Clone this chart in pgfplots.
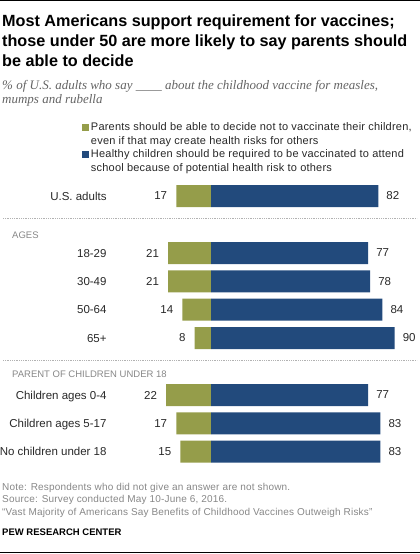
\documentclass[border=0pt]{standalone}
\usepackage{fontspec}
\setmainfont{Liberation Sans}
\newfontfamily\subfont{Liberation Serif}
\newfontfamily\widefont{Liberation Sans}[LetterSpace=1.9]
\usepackage{pgfplots}
\pgfplotsset{compat=1.18}
\usepackage{pgfplotstable}
\definecolor{pgreen}{RGB}{149,157,74}
\definecolor{pblue}{RGB}{34,74,124}
\definecolor{ptext}{RGB}{40,40,40}
\definecolor{pgray}{RGB}{135,135,135}
\definecolor{psub}{RGB}{100,100,100}

\pgfplotstableread{
y g b
196 17 82
253 21 77
281.3 21 78
309.7 14 84
338 8 90
395 22 77
423.3 17 83
451.7 15 83
}\datatab

\begin{document}
\begin{tikzpicture}
\path[use as bounding box] (0,0) rectangle (420pt,554pt);
\begin{axis}[
  at={(0,0)}, anchor=south west,
  scale only axis, width=420pt, height=554pt,
  xmin=-103.43, xmax=102.45, ymin=0, ymax=554, y dir=reverse,
  enlargelimits=false, clip=false,
  axis line style={draw=none}, tick style={draw=none},
  xtick=\empty,
  ytick={196,253,281.3,309.7,338,395,423.3,451.7},
  yticklabels={U.S. adults,18-29,30-49,50-64,65+,Children ages 0-4,Children ages 5-17,No children under 18},
  yticklabel style={anchor=base east, inner sep=0pt, xshift=111pt, yshift=-4.2pt, font=\fontsize{11.5}{13}\selectfont, text=ptext},
  /pgf/number format/assume math mode=true,
  xbar, bar width=22pt, bar shift=0pt,
  legend cell align=left,
  legend style={at={(axis cs:-63.24,123)}, anchor=north west, draw=none, fill=none,
    inner sep=0pt, outer sep=0pt, row sep=4pt, column sep=2pt,
    nodes={inner sep=0pt, align=left, text=ptext, font=\widefont\fontsize{11}{13.5}\selectfont}},
  legend image code/.code={\fill[#1] (0pt,3.3pt) rectangle (7pt,10.3pt);},
]
\addplot[fill=pgreen, draw=none, point meta=\thisrow{g},
  nodes near coords,
  nodes near coords style={anchor=east, inner sep=0pt, xshift=-9pt, text=ptext, font=\fontsize{11.5}{13}\selectfont}]
  table[x expr=-\thisrow{g}, y=y]{\datatab};
\addlegendentry{Parents should be able to decide not to vaccinate their children,\\even if that may create health risks for others}
\addplot[fill=pblue, draw=none, point meta=\thisrow{b},
  nodes near coords,
  nodes near coords style={anchor=west, inner sep=0pt, xshift=8pt, text=ptext, font=\fontsize{11.5}{13}\selectfont}]
  table[x=b, y=y]{\datatab};
\addlegendentry{Healthy children should be required to be vaccinated to attend\\school because of potential health risk to others}
\end{axis}
\begin{scope}[x=1pt, y=-1pt, yshift=554pt]
  \draw[line width=1.2pt] (0,0.6) -- (420,0.6);
  \draw[line width=1pt] (0,552.5) -- (420,552.5);
  \begin{scope}[every node/.style={anchor=base west, inner sep=0pt, font=\fontsize{16.2}{20}\selectfont\bfseries}]
    \node at (2,26.7) {Most Americans support requirement for vaccines;};
    \node at (2,46.7) {those under 50 are more likely to say parents should};
    \node at (2,66.7) {be able to decide};
  \end{scope}
  \begin{scope}[every node/.style={anchor=base west, inner sep=0pt, text=psub, font=\subfont\itshape\fontsize{13}{15}\selectfont}]
    \node at (2,90) {\% of U.S. adults who say \_\_\_\_ about the childhood vaccine for measles,};
    \node at (2,103.5) {mumps and rubella};
  \end{scope}
  \draw[densely dotted, color=black!30, line width=0.8pt] (3,218.3) -- (417,218.3);
  \draw[densely dotted, color=black!30, line width=0.8pt] (3,360) -- (417,360);
  \begin{scope}[every node/.style={anchor=base west, inner sep=0pt, text=pgray, font=\fontsize{9.5}{11}\selectfont}]
    \node at (12,238.3) {AGES};
    \node at (12,377.3) {PARENT OF CHILDREN UNDER 18};
  \end{scope}
  \begin{scope}[every node/.style={anchor=base west, inner sep=0pt, text=pgray, font=\widefont\fontsize{10}{12}\selectfont}]
    \node at (2,490.7) {Note: Respondents who did not give an answer are not shown.};
    \node at (2,502.3) {Source: Survey conducted May 10-June 6, 2016.};
    \node at (2,515.7) {“Vast Majority of Americans Say Benefits of Childhood Vaccines Outweigh Risks”};
  \end{scope}
  \node[anchor=base west, inner sep=0pt, font=\fontsize{9.5}{11}\selectfont\bfseries] at (2,535) {PEW RESEARCH CENTER};
\end{scope}
\end{tikzpicture}
\end{document}
